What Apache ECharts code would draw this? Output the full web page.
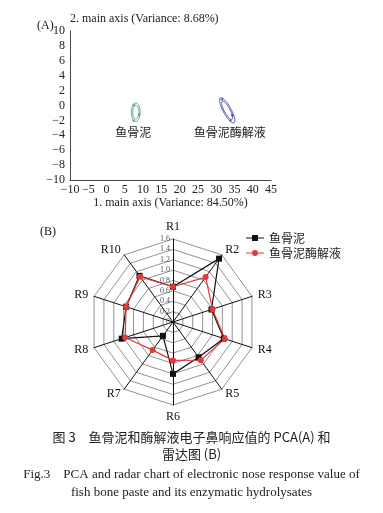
<!DOCTYPE html>
<html>
<head>
<meta charset="utf-8">
<script src="https://cdn.jsdelivr.net/npm/echarts@6/dist/echarts.min.js"></script>
<style>
html,body{margin:0;padding:0;background:#fff;}
#c{width:383px;height:513px;}
</style>
</head>
<body>
<div id="c"></div>
<script>
// ---------- Data ----------
// PCA (A)
const pcaGroups = ['鱼骨泥', '鱼骨泥酶解液'];
const pcaCenterX = [8.0, 33.0];
const pcaCenterY = [-0.9, -0.65];
// ellipse half-axis vectors (data units)
const pcaAxisU = [[1.2, 0], [1.85, -1.68]];
const pcaAxisV = [[0, 1.25], [0.96, 0.25]];
const pcaLabelX = [7.3, 33.7];
const pcaLabelY = [-3.6, -3.6];
const pcaSamplesA = [[8.9, -1.2], [7.5, 0.1], [7.4, -2.0]];
const pcaSamplesB = [[31.6, 0.8], [34.4, -1.3], [33.9, -2.0]];
const xTicks = [-10, 45, 5];
const yTicks = [-10, 10, 2];

// Radar (B)
const radarNames = ['R1', 'R2', 'R3', 'R4', 'R5', 'R6', 'R7', 'R8', 'R9', 'R10'];
const fishBonePaste = [0.68, 1.51, 0.78, 1.03, 0.84, 1.00, 0.33, 1.04, 0.95, 1.10];
const hydrolysate = [0.68, 1.07, 0.80, 1.05, 0.91, 0.74, 0.67, 0.97, 0.95, 1.08];
const radarMax = 1.6;
const seriesNames = ['鱼骨泥', '鱼骨泥酶解液'];

// ---------- Helpers ----------
const SERIF = "'Liberation Serif','Noto Sans CJK SC',serif";
const CJK = "'Noto Sans CJK SC','Liberation Serif',serif";
const pcaColors = ['#4f9288', '#3a44a8'];
// ECharts radar is counter-clockwise; reorder to draw clockwise
function cw(arr) { return [arr[0]].concat(arr.slice(1).reverse()); }
function minusFmt(v) { return String(v).replace('-', '\u2212'); }

const ellipseData = pcaGroups.map((g, i) => [pcaCenterX[i], pcaCenterY[i], i]);

const chart = echarts.init(document.getElementById('c'), null, {renderer: 'canvas'});

const option = {
  backgroundColor: '#fff',
  animation: false,
  textStyle: {fontFamily: SERIF},
  title: [
    {text: '(A)', left: 32, top: 15, textStyle: {fontFamily: SERIF, fontSize: 12, fontWeight: 'normal', color: '#111'}},
    {text: '(B)', left: 35, top: 221, textStyle: {fontFamily: SERIF, fontSize: 12, fontWeight: 'normal', color: '#111'}},
    {text: '图 3　鱼骨泥和酶解液电子鼻响应值的 PCA(A) 和', left: 'center', top: 426, textStyle: {fontFamily: CJK, fontSize: 13, fontWeight: 'normal', color: '#222'}},
    {text: '雷达图 (B)', left: 'center', top: 443, textStyle: {fontFamily: CJK, fontSize: 13, fontWeight: 'normal', color: '#222'}},
    {text: 'Fig.3　PCA and radar chart of electronic nose response value of', left: 'center', top: 463, textStyle: {fontFamily: SERIF, fontSize: 13, fontWeight: 'normal', color: '#222'}},
    {text: 'fish bone paste and its enzymatic hydrolysates', left: 'center', top: 481, textStyle: {fontFamily: SERIF, fontSize: 13, fontWeight: 'normal', color: '#222'}}
  ],
  grid: {left: 70, right: 112, top: 31, bottom: 333, containLabel: false},
  xAxis: {
    type: 'value', min: xTicks[0], max: xTicks[1], interval: xTicks[2],
    name: '1. main axis (Variance: 84.50%)', nameLocation: 'middle', nameGap: 15,
    nameTextStyle: {fontFamily: SERIF, fontSize: 12, color: '#222'},
    axisLine: {onZero: false, lineStyle: {color: '#444', width: 1}},
    axisTick: {show: false},
    splitLine: {show: false},
    axisLabel: {fontFamily: SERIF, fontSize: 12, color: '#222', margin: 4, formatter: minusFmt}
  },
  yAxis: {
    type: 'value', min: yTicks[0], max: yTicks[1], interval: yTicks[2],
    name: '2. main axis (Variance: 8.68%)', nameLocation: 'end', nameGap: 7,
    nameTextStyle: {fontFamily: SERIF, fontSize: 12, color: '#222', align: 'left', verticalAlign: 'middle'},
    axisLine: {show: true, onZero: false, lineStyle: {color: '#444', width: 1}},
    axisTick: {show: false},
    splitLine: {show: false},
    axisLabel: {fontFamily: SERIF, fontSize: 12, color: '#222', margin: 5, formatter: minusFmt}
  },
  radar: {
    center: [173, 322],
    radius: 83,
    startAngle: 90,
    shape: 'polygon',
    splitNumber: 8,
    indicator: cw(radarNames).map((n, i) => {
      const o = {name: n, min: 0, max: radarMax};
      if (i === 0) {
        o.axisLabel = {show: true, fontSize: 8, color: '#555', fontFamily: SERIF, margin: 0,
          align: 'right', padding: [0, 3, 0, 0],
          formatter: v => (v === 0 ? '0' : Number(v).toFixed(1))};
      }
      return o;
    }),
    axisName: {color: '#111', fontFamily: SERIF, fontSize: 12},
    nameGap: 6,
    axisLine: {lineStyle: {color: '#111', width: 1}},
    axisTick: {show: false},
    axisLabel: {show: false},
    splitLine: {lineStyle: {color: '#777', width: 0.8}},
    splitArea: {show: false}
  },
  legend: {
    orient: 'vertical', left: 241, top: 227, itemGap: 3,
    itemWidth: 18, itemHeight: 9,
    textStyle: {fontFamily: CJK, fontSize: 12, color: '#222'},
    data: [
      {name: seriesNames[0], icon: 'path://M0,4.4H18V5.6H0Z M6,2H12V8H6Z', itemStyle: {color: '#111'}},
      {name: seriesNames[1], icon: 'path://M0,4.4H18V5.6H0Z M12,5A3,3 0 1 1 6,5A3,3 0 1 1 12,5Z', itemStyle: {color: '#e03a3a'}}
    ]
  },
  series: [
    {
      type: 'custom',
      name: 'ellipses',
      coordinateSystem: 'cartesian2d',
      silent: true,
      data: ellipseData,
      renderItem: function (params, api) {
        const i = api.value(2);
        const cx = api.value(0), cy = api.value(1);
        const u = pcaAxisU[i], v = pcaAxisV[i];
        const color = pcaColors[i];
        const children = [];
        [1, 0.72].forEach(s => {
          const pts = [];
          for (let k = 0; k <= 72; k++) {
            const t = k / 72 * Math.PI * 2;
            const c = Math.cos(t), sn = Math.sin(t);
            pts.push(api.coord([cx + s * (u[0] * c + v[0] * sn), cy + s * (u[1] * c + v[1] * sn)]));
          }
          children.push({type: 'polyline', shape: {points: pts}, style: {stroke: color, lineWidth: 0.9, fill: null}});
        });
        const lp = api.coord([pcaLabelX[i], pcaLabelY[i]]);
        children.push({type: 'text', x: lp[0], y: lp[1], style: {text: pcaGroups[i], fill: '#222', font: '12px ' + CJK, align: 'center', verticalAlign: 'middle'}});
        return {type: 'group', children: children};
      },
      z: 2
    },
    {
      type: 'scatter', name: 'sA', data: pcaSamplesA, symbolSize: 2.5, silent: true,
      itemStyle: {color: pcaColors[0]}, z: 3
    },
    {
      type: 'scatter', name: 'sB', data: pcaSamplesB, symbolSize: 2.5, silent: true,
      itemStyle: {color: pcaColors[1]}, z: 3
    },
    {
      type: 'radar',
      symbolSize: 6,
      z: 3,
      data: [
        {
          name: seriesNames[0], value: cw(fishBonePaste), symbol: 'rect', symbolSize: 6,
          lineStyle: {color: '#111', width: 1.2}, itemStyle: {color: '#111'}
        },
        {
          name: seriesNames[1], value: cw(hydrolysate), symbol: 'circle', symbolSize: 6,
          lineStyle: {color: '#e03a3a', width: 1.2}, itemStyle: {color: '#e03a3a'}
        }
      ]
    }
  ]
};
chart.setOption(option);
</script>
</body>
</html>
